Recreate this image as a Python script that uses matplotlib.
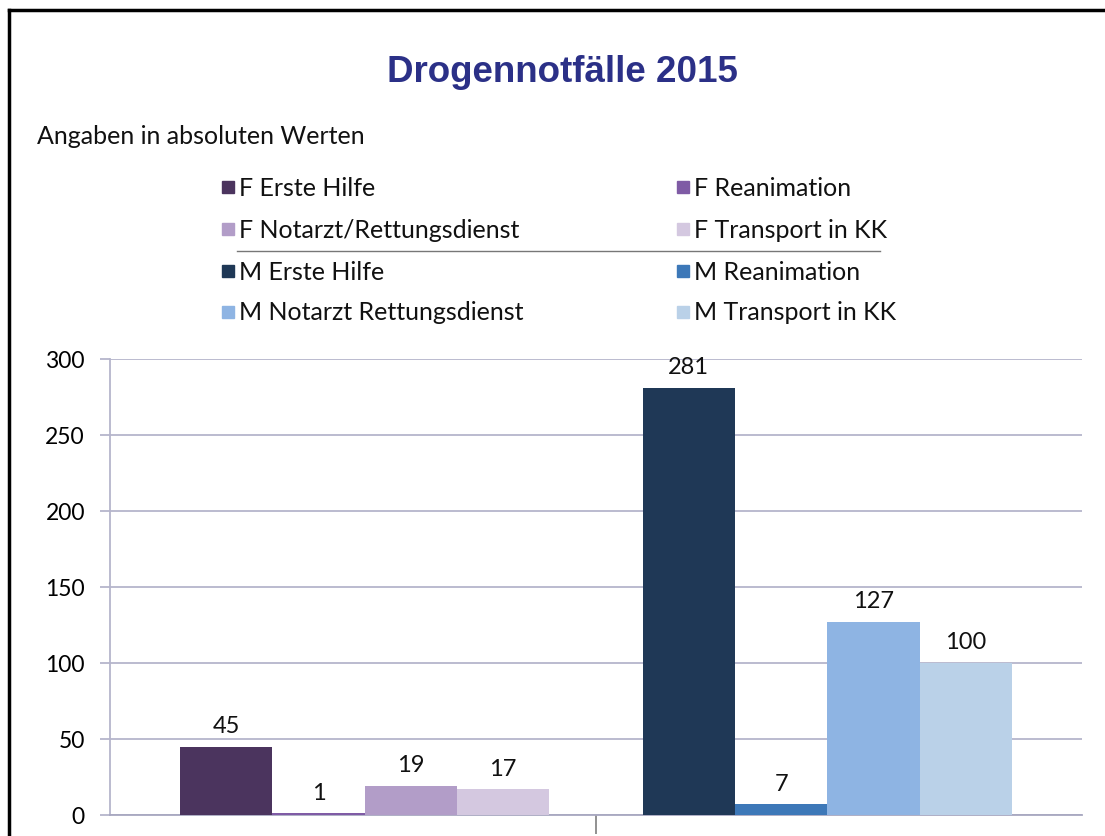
import matplotlib
matplotlib.use("Agg")
import matplotlib.pyplot as plt
from matplotlib.patches import Rectangle
from matplotlib.lines import Line2D

plt.rcParams['font.family'] = ['Lato', 'DejaVu Sans']

# data
categories = ["F", "M"]
f_labels = ["F Erste Hilfe", "F Reanimation", "F Notarzt/Rettungsdienst", "F Transport in KK"]
m_labels = ["M Erste Hilfe", "M Reanimation", "M Notarzt Rettungsdienst", "M Transport in KK"]
f_values = [45, 1, 19, 17]
m_values = [281, 7, 127, 100]
f_colors = ["#4B345E", "#7F5BA5", "#B29DC8", "#D4C8E0"]
m_colors = ["#1F3856", "#3D78B8", "#8EB4E3", "#BAD1E8"]
yticks = [0, 50, 100, 150, 200, 250, 300]

W, H = 1105, 837
fig = plt.figure(figsize=(W / 100, H / 100), dpi=100)


def fx(x):
    return x / W


def fy(y):
    return 1 - y / H


ax = fig.add_axes([fx(110), fy(816), fx(1082) - fx(110), fy(360) - fy(816)])

bar_w = 0.19
shift = [0.024, -0.024]
grid_c = "#B5B5CC"

for ci, (vals, cols) in enumerate([(f_values, f_colors), (m_values, m_colors)]):
    n = len(vals)
    for i, (v, c) in enumerate(zip(vals, cols)):
        xpos = ci + shift[ci] + (i - (n - 1) / 2) * bar_w
        ax.bar(xpos, v, width=bar_w, color=c, zorder=3)
        ax.text(xpos, v + 7, str(v), ha="center", va="bottom", fontsize=17, color="#111111")

ax.set_xlim(-0.5, 1.5)
ax.set_ylim(0, 300)
ax.set_yticks(yticks)
ax.set_yticklabels([str(t) for t in yticks], fontsize=16.5)
ax.yaxis.grid(True, color=grid_c, linewidth=1.3, zorder=0)
ax.tick_params(axis="y", length=7, color=grid_c, width=1.3, pad=11)
ax.set_xticks([0.5])
ax.set_xticklabels([""])
ax.tick_params(axis="x", length=14, color="#888888", width=1.3, direction="out")
for s in ["top", "right"]:
    ax.spines[s].set_visible(False)
ax.spines["left"].set_color(grid_c)
ax.spines["bottom"].set_color("#A8A8C0")
ax.spines["left"].set_linewidth(1.3)
ax.spines["bottom"].set_linewidth(1.3)

# title and subtitle
fig.text(fx(562), fy(73), "Drogennotfälle 2015", ha="center", va="center",
         fontsize=26.5, fontweight="bold", color="#2B3087", family="Liberation Sans")
fig.text(fx(37), fy(137), "Angaben in absoluten Werten", ha="left", va="center",
         fontsize=18, color="#111111")

# legend (two columns)
rows_y = [188, 230, 272, 313]
legend_items = [
    (f_labels[0], f_colors[0]), (f_labels[1], f_colors[1]),
    (f_labels[2], f_colors[2]), (f_labels[3], f_colors[3]),
    (m_labels[0], m_colors[0]), (m_labels[1], m_colors[1]),
    (m_labels[2], m_colors[2]), (m_labels[3], m_colors[3]),
]
col_x = [222, 677]
for k, (lab, col) in enumerate(legend_items):
    x0 = col_x[k % 2]
    y0 = rows_y[k // 2]
    fig.add_artist(Rectangle((fx(x0), fy(y0 + 6)), fx(12), 12 / H,
                             transform=fig.transFigure, color=col))
    fig.text(fx(x0 + 17), fy(y0), lab, ha="left", va="center", fontsize=18, color="#111111")

fig.add_artist(Line2D([fx(237), fx(880)], [fy(252), fy(252)], color="#777777", linewidth=1.0))

# frame lines (top and left)
fig.add_artist(Line2D([fx(9), fx(1105)], [fy(11), fy(11)], color="black", linewidth=2.5))
fig.add_artist(Line2D([fx(9), fx(9)], [fy(11), 0], color="black", linewidth=2.5))

fig.savefig("out.png", dpi=100)
